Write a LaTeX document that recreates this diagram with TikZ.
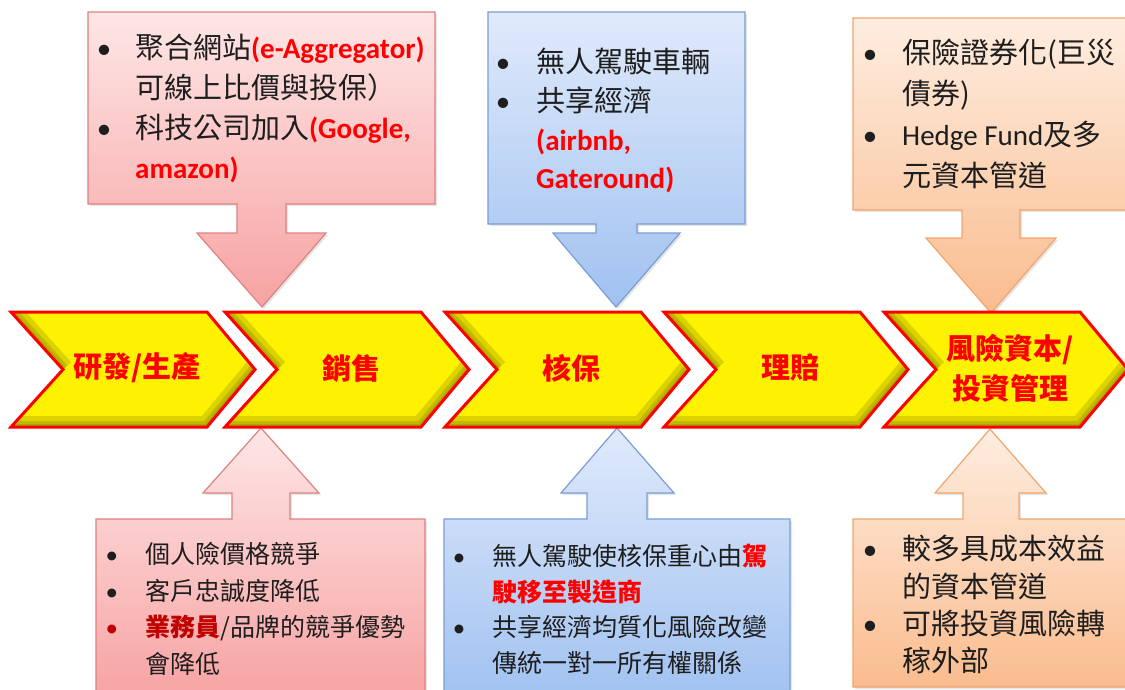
\documentclass[tikz,border=0pt]{standalone}
\usepackage{fontspec}
\setmainfont{Carlito}
\newfontfamily\cjk{Noto Sans CJK TC}
\usetikzlibrary{shadows}

\definecolor{redhi}{RGB}{254,230,230}
\definecolor{redlo}{RGB}{247,162,162}
\definecolor{redline}{RGB}{220,130,128}
\definecolor{bluehi}{RGB}{224,234,251}
\definecolor{bluelo}{RGB}{160,193,240}
\definecolor{blueline}{RGB}{122,157,212}
\definecolor{orghi}{RGB}{254,237,224}
\definecolor{orglo}{RGB}{250,188,142}
\definecolor{orgline}{RGB}{240,165,110}
\definecolor{olivedk}{RGB}{100,100,0}
\definecolor{hired}{RGB}{255,0,0}
\definecolor{darkred}{RGB}{192,0,0}
\definecolor{txtdk}{RGB}{30,30,30}

\newcommand{\bul}[1]{\llap{{\rmfamily\textbullet}\hspace{#1}}}
\newcommand{\hl}[1]{{\rmfamily\bfseries\color{hired}#1}}
\newcommand{\hlc}[1]{{\bfseries\color{hired}#1}}

\begin{document}
\begin{tikzpicture}
    [x=1pt, y=-1pt,
     redcall/.style  = {draw=redline, line width=1.2pt, top color=redhi, bottom color=redlo,
                        drop shadow={opacity=.2, shadow xshift=2pt, shadow yshift=-2pt}},
     bluecall/.style = {draw=blueline, line width=1.2pt, top color=bluehi, bottom color=bluelo,
                        drop shadow={opacity=.2, shadow xshift=2pt, shadow yshift=-2pt}},
     orgcall/.style  = {draw=orgline, line width=1.2pt, top color=orghi, bottom color=orglo,
                        drop shadow={opacity=.2, shadow xshift=2pt, shadow yshift=-2pt}},
     chevline/.style = {draw=red, line width=3pt, line join=miter},
     bevel/.style    = {draw=olivedk, line width=#1, opacity=.22},
     steptext/.style = {font=\cjk\bfseries\fontsize{29}{40}\selectfont, text=red,
                        align=center, inner sep=0pt},
     boxtext/.style  = {anchor=north west, inner sep=0pt, align=left, text=txtdk},
    ]

    \fill[white] (0,0) rectangle (1125,689);
    \useasboundingbox (0,0) rectangle (1125,689);

    % callouts above the chain
    \path[redcall] (88,12) -- (435,12) -- (435,204) -- (286,204) -- (286,233) -- (326,233)
        -- (262,307) -- (197,233) -- (237,233) -- (237,204) -- (88,204) -- cycle;
    \path[bluecall] (488,12) -- (745,12) -- (745,224) -- (637,224) -- (637,233) -- (680,233)
        -- (616,307) -- (553,233) -- (596,233) -- (596,224) -- (488,224) -- cycle;
    \path[orgcall] (853,18) -- (1135,18) -- (1135,210) -- (1020,210) -- (1020,238) -- (1056,238)
        -- (991,313) -- (926,238) -- (962,238) -- (962,210) -- (853,210) -- cycle;

    % callouts below the chain
    \path[redcall] (96,519) -- (232,519) -- (232,493) -- (203,493) -- (261,428) -- (319,493)
        -- (290,493) -- (290,519) -- (425,519) -- (425,700) -- (96,700) -- cycle;
    \path[bluecall] (444,519) -- (587,519) -- (587,493) -- (561,493) -- (617,428) -- (674,493)
        -- (647,493) -- (647,519) -- (790,519) -- (790,700) -- (444,700) -- cycle;
    \path[orgcall] (853,519) -- (963,519) -- (963,493) -- (935,493) -- (990,429) -- (1046,493)
        -- (1019,493) -- (1019,519) -- (1135,519) -- (1135,687) -- (853,687) -- cycle;

    % value chain
    \foreach \L/\nm/\txt in {11/rd/{研發/生產}, 225/sales/{銷售}, 445/uw/{核保},
                             664/claims/{理賠}, 884/risk/{風險資本/\\投資管理}} {
        \fill[yellow] (\L,312) -- (\L+196,312) -- (\L+244,369.5) -- (\L+196,427) -- (\L,427)
            -- (\L+52,369.5) -- cycle;
        \begin{scope}
            \clip (\L,312) -- (\L+196,312) -- (\L+244,369.5) -- (\L+196,427) -- (\L,427)
                -- (\L+52,369.5) -- cycle;
            \foreach \w in {22pt,12pt,6pt} {
                \draw[bevel=\w] (\L,312) -- (\L+52,369.5);
                \draw[bevel=\w] (\L,427) -- (\L+196,427) -- (\L+244,369.5);
            }
        \end{scope}
        \path[chevline] (\L,312) -- (\L+196,312) -- (\L+244,369.5) -- (\L+196,427) -- (\L,427)
            -- (\L+52,369.5) -- cycle;
        \node[steptext] (\nm) at (\L+126,368) {\txt};
    }

    % texts of the callouts
    \node[boxtext, font=\cjk\fontsize{29}{40}\selectfont] (salesup) at (135,34)
        {\bul{24pt}聚合網站\hl{(e-Aggregator)}\\
         可線上比價與投保）\\
         \bul{24pt}科技公司加入\hl{(Google,}\\
         \hl{amazon)}};
    \node[boxtext, font=\cjk\fontsize{29}{38.7}\selectfont] (uwup) at (536,48)
        {\bul{26pt}無人駕駛車輛\\
         \bul{26pt}共享經濟\\
         \hl{(airbnb,}\\
         \hl{Gateround)}};
    \node[boxtext, font=\cjk\fontsize{29}{41}\selectfont] (riskup) at (902,39)
        {\bul{25pt}保險證券化(巨災\\
         債券)\\
         \bul{25pt}{\rmfamily Hedge Fund}及多\\
         元資本管道};

    \node[boxtext, font=\cjk\fontsize{25}{36.7}\selectfont] (salesdown) at (145,542)
        {\bul{27pt}個人險價格競爭\\
         \bul{27pt}客戶忠誠度降低\\
         {\color{darkred}\bul{27pt}\bfseries 業務員}/品牌的競爭優勢\\
         會降低};
    \node[boxtext, font=\cjk\fontsize{25}{35.7}\selectfont] (uwdown) at (492,544)
        {\bul{27pt}無人駕駛使核保重心由\hlc{駕}\\
         \hlc{駛移至製造商}\\
         \bul{27pt}共享經濟均質化風險改變\\
         傳統一對一所有權關係};
    \node[boxtext, font=\cjk\fontsize{29}{37.3}\selectfont] (riskdown) at (902,535)
        {\bul{25pt}較多具成本效益\\
         的資本管道\\
         \bul{25pt}可將投資風險轉\\
         稼外部};

\end{tikzpicture}
\end{document}
